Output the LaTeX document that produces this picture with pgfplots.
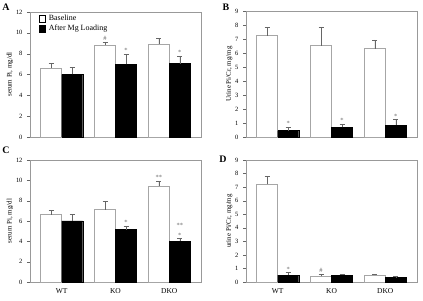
\documentclass[border=0pt]{standalone}
\usepackage{fontspec}
\setmainfont{Liberation Serif}
\usepackage{pgfplots}
\pgfplotsset{compat=1.18}
\tikzset{ann/.style={font=\fontsize{6.5}{7}\selectfont, text=black!60, above, inner sep=1pt}}
\pgfplotsset{
  panel/.style={
    scale only axis, width=171bp,
    ybar=0pt, bar width=21bp,
    xmin=-0.59, xmax=2.59, ymin=0,
    xtick={0,1,2}, xticklabels={},
    axis line style={black!40},
    tick align=outside, ytick pos=left, xtick style={draw=none},
    major tick length=3bp,
    ytick style={black!60},
    yticklabel style={font=\fontsize{6.5}{7}\selectfont, xshift=-1bp},
    xticklabel style={font=\fontsize{7.5}{8}\selectfont},
    ylabel style={font=\fontsize{7}{8}\selectfont},
    ylabel shift=-4bp,
    /pgf/number format/assume math mode=true,
    clip=false,
  },
  base/.style={fill=white, draw=black!35, line width=0.6pt,
    error bars/.cd, y dir=plus, y explicit,
    error bar style={black!60, line width=0.5pt},
    error mark options={rotate=90, mark size=2.5bp, black!60, line width=0.5pt}},
  after/.style={fill=black, draw=black,
    error bars/.cd, y dir=plus, y explicit,
    error bar style={black!60, line width=0.5pt},
    error mark options={rotate=90, mark size=2.5bp, black!60, line width=0.5pt}},
}
\begin{document}
\begin{tikzpicture}
\path[use as bounding box] (0,0) rectangle (423bp,301bp);
% Panel A
\begin{axis}[panel, at={(30bp,164bp)}, anchor=south west, height=125bp,
  ymax=12, ytick={0,2,...,12}, ylabel={serum Pi, mg/dl},
  legend cell align=left,
  legend style={draw=none, fill=none, at={(0.045,1.0)}, anchor=north west,
    font=\fontsize{8}{9}\selectfont, row sep=-1.5pt, inner sep=1pt,
    nodes={inner xsep=3.5pt}},
  legend image code/.code={\draw[#1, draw=black, line width=0.5pt] (0bp,-3.5bp) rectangle (6bp,3.5bp);}]
\addplot[base] coordinates {(0,6.6) +- (0,0.47) (1,8.82) +- (0,0.32) (2,8.92) +- (0,0.57)};
\addplot[after] coordinates {(0,6.0) +- (0,0.7) (1,6.97) +- (0,0.98) (2,7.05) +- (0,0.72)};
\legend{Baseline, After Mg Loading}
\node[ann] at (axis cs:0.805,9.15) {\#};
\node[ann] at (axis cs:1.195,7.95) {*};
\node[ann] at (axis cs:2.195,7.77) {*};
\end{axis}
% Panel B
\begin{axis}[panel, at={(246bp,164bp)}, anchor=south west, height=126bp,
  ymax=9, ytick={0,1,...,9}, ylabel={Urine Pi/Cr, mg/mg}]
\addplot[base] coordinates {(0,7.25) +- (0,0.56) (1,6.52) +- (0,1.35) (2,6.31) +- (0,0.62)};
\addplot[after] coordinates {(0,0.45) +- (0,0.25) (1,0.68) +- (0,0.25) (2,0.85) +- (0,0.4)};
\node[ann] at (axis cs:0.195,0.72) {*};
\node[ann] at (axis cs:1.195,0.95) {*};
\node[ann] at (axis cs:2.195,1.27) {*};
\end{axis}
% Panel C
\begin{axis}[panel, at={(30bp,19bp)}, anchor=south west, height=122bp,
  ymax=12, ytick={0,2,...,12}, ylabel={serum Pi, mg/dl},
  xticklabels={WT,KO,DKO}]
\addplot[base] coordinates {(0,6.62) +- (0,0.4) (1,7.12) +- (0,0.8) (2,9.4) +- (0,0.5)};
\addplot[after] coordinates {(0,6.02) +- (0,0.65) (1,5.15) +- (0,0.33) (2,4.02) +- (0,0.27)};
\node[ann] at (axis cs:1.195,5.5) {*};
\node[ann] at (axis cs:1.805,9.95) {**};
\node[ann] at (axis cs:2.195,4.3) {*};
\node[ann] at (axis cs:2.195,5.2) {**};
\end{axis}
% Panel D
\begin{axis}[panel, at={(246bp,19bp)}, anchor=south west, height=122bp,
  ymax=9, ytick={0,1,...,9}, ylabel={urine Pi/Cr, mg/mg},
  xticklabels={WT,KO,DKO}]
\addplot[base] coordinates {(0,7.2) +- (0,0.58) (1,0.42) +- (0,0.15) (2,0.5) +- (0,0.06)};
\addplot[after] coordinates {(0,0.5) +- (0,0.2) (1,0.5) +- (0,0.07) (2,0.33) +- (0,0.08)};
\node[ann] at (axis cs:0.195,0.72) {*};
\node[ann] at (axis cs:0.805,0.6) {\#};
\end{axis}
\node[font=\fontsize{10}{11}\selectfont\bfseries] at (6bp,294bp) {A};
\node[font=\fontsize{10}{11}\selectfont\bfseries] at (226bp,294bp) {B};
\node[font=\fontsize{10}{11}\selectfont\bfseries] at (6bp,151bp) {C};
\node[font=\fontsize{10}{11}\selectfont\bfseries] at (223bp,142bp) {D};
\end{tikzpicture}
\end{document}
